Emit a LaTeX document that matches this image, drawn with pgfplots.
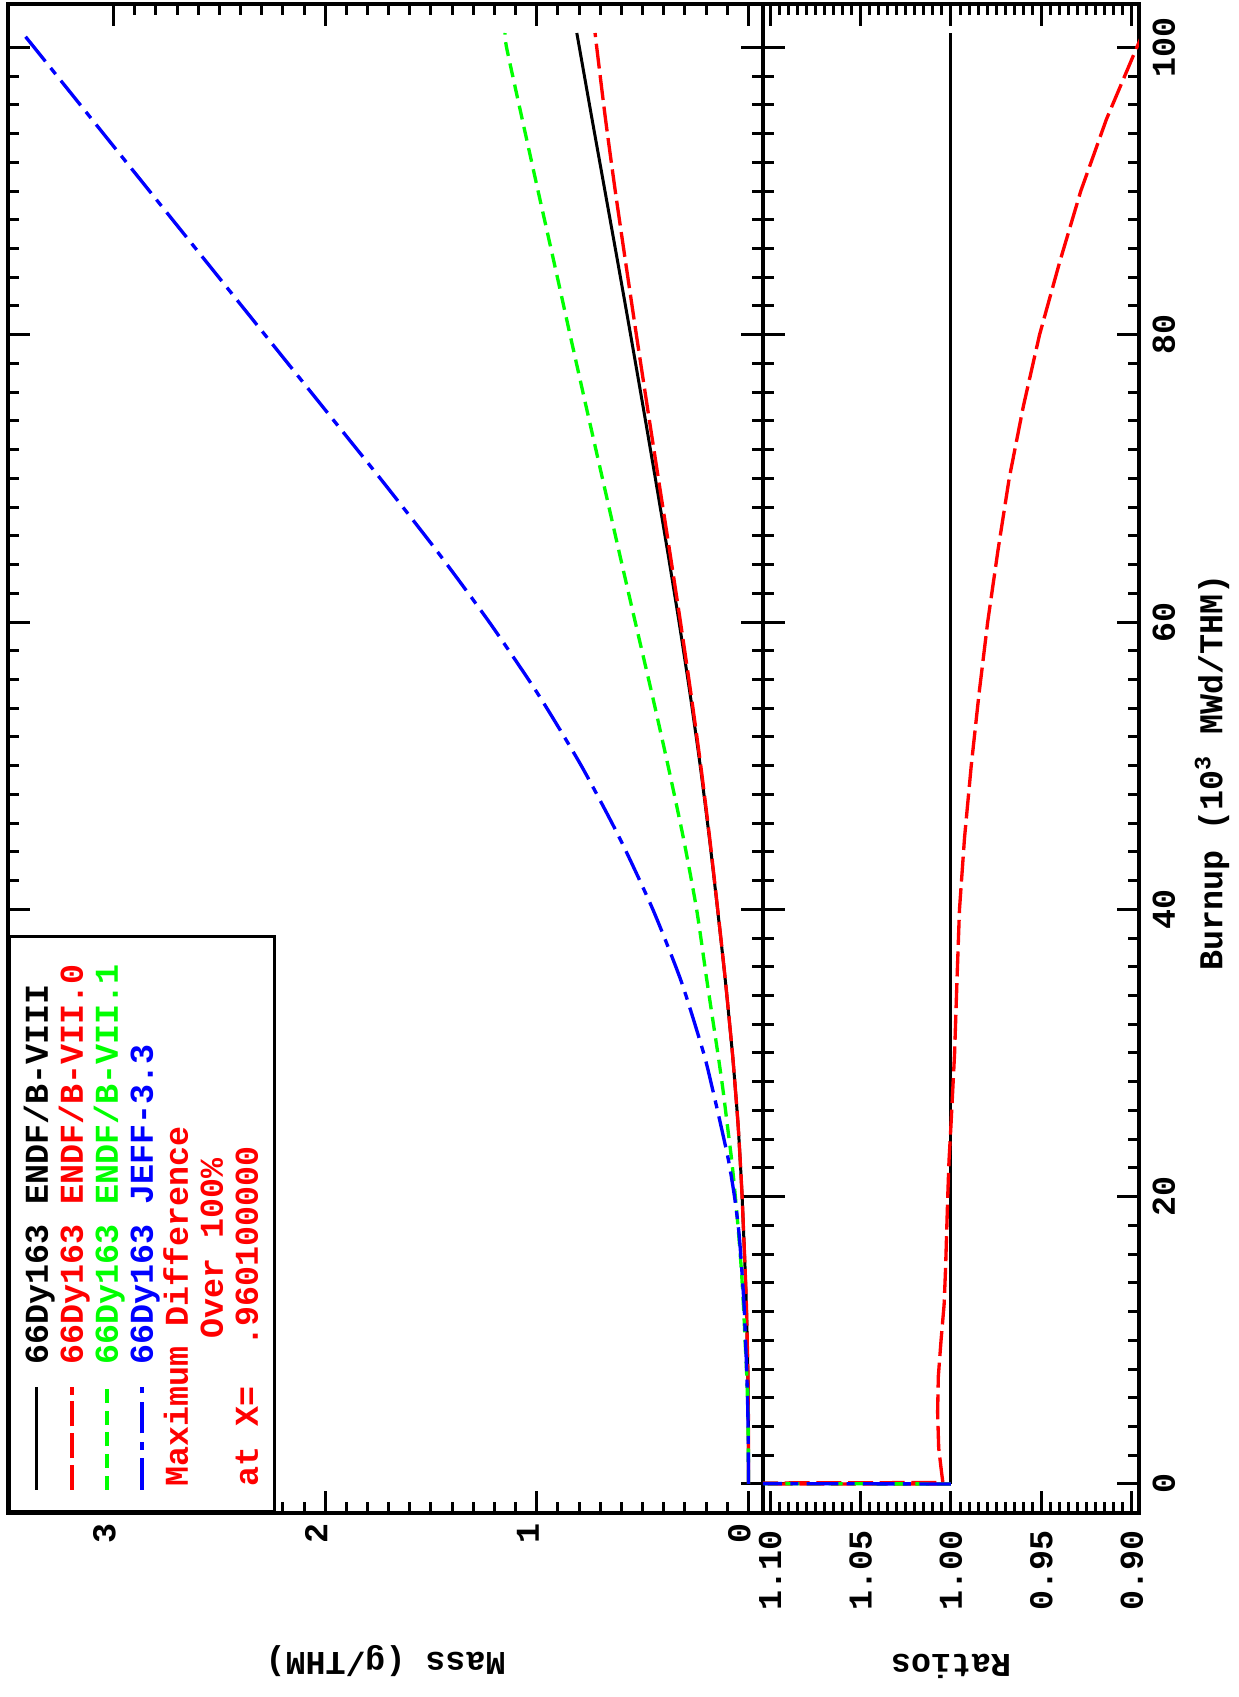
\documentclass[border=0pt]{standalone}
\usepackage{fontspec}
\setmainfont{Liberation Mono}
\usepackage{graphicx}
\usepackage{pgfplots}
\usepackage{pgfplotstable}
\pgfplotsset{compat=1.18}

\pgfplotstableread{
b      black   red     green   blue
0      0       0       0       0
1      0.00002 0.00002 0.0001  0.0001
2.5    0.0001  0.0001  0.0007  0.0007
5      0.0007  0.0007  0.003   0.003
7.5    0.0025  0.0025  0.008   0.0075
10     0.006   0.006   0.016   0.014
12.5   0.010   0.010   0.024   0.021
15     0.016   0.016   0.034   0.032
17.5   0.023   0.023   0.047   0.045
20     0.030   0.030   0.062   0.066
22.5   0.039   0.039   0.079   0.094
25     0.049   0.049   0.100   0.131
27.5   0.062   0.062   0.121   0.170
30     0.076   0.0758  0.145   0.212
35     0.109   0.1086  0.196   0.318
40     0.146   0.1453  0.245   0.452
45     0.185   0.1836  0.308   0.610
50     0.228   0.2254  0.380   0.790
55     0.276   0.2717  0.456   0.995
60     0.328   0.3213  0.535   1.225
65     0.383   0.3730  0.613   1.475
70     0.440   0.4258  0.690   1.740
75     0.498   0.4781  0.767   2.0125
80     0.557   0.5297  0.843   2.285
85     0.617   0.5800  0.918   2.5575
90     0.678   0.6293  0.994   2.830
95     0.739   0.6754  1.069   3.1025
100    0.799   0.7169  1.143   3.375
101    0.811   0.7248  1.150   3.430
}\massdata

\pgfplotstableread{
b      red
0      1.0
0.01   1.3
0.1    1.0045
1      1.0054
2.5    1.0068
5      1.0074
7.5    1.0070
10     1.0055
12.5   1.0038
15     1.0030
17.5   1.0024
20     1.0018
22.5   1.0011
25     1.0000
27.5   0.9990
30     0.9980
35     0.9967
40     0.9953
45     0.9925
50     0.9888
55     0.9845
60     0.9797
65     0.9740
70     0.9678
75     0.9600
80     0.9510
85     0.9400
90     0.9282
95     0.9140
100    0.8972
101    0.8937
}\ratiored

\pgfplotstableread{
b      green  blue
0      1.0    1.0
1      5.0    5.0
2.5    7.0    7.0
5      4.29   4.29
7.5    3.2    3.0
10     2.67   2.33
15     2.13   2.0
20     2.07   2.2
25     2.04   2.67
30     1.91   2.79
35     1.80   2.92
40     1.68   3.10
45     1.66   3.30
50     1.67   3.46
55     1.65   3.61
60     1.63   3.73
65     1.60   3.85
70     1.57   3.95
75     1.54   4.04
80     1.51   4.10
85     1.49   4.15
90     1.47   4.17
95     1.45   4.20
100    1.43   4.22
101    1.42   4.23
}\ratioother

\pgfplotsset{
  /pgf/number format/assume math mode=true,
  panel/.style={
    scale only axis,
    width=452.7pt,
    xmin=-2.02, xmax=103.02,
    xtick={0,20,40,60,80,100},
    minor x tick num=9,
    tick align=inside,
    xtick pos=both, ytick pos=both,
    major tick length=6.6pt,
    minor tick length=3.3pt,
    every tick/.style={black, line width=0.9pt},
    axis line style={line width=1.2pt},
    clip=true,
  },
  redst/.style={red, line width=1pt, dash pattern=on 7.5pt off 2pt},
  greenst/.style={green, line width=1pt, dash pattern=on 4.2pt off 2.3pt},
  bluest/.style={blue, line width=1pt, dash pattern=on 9.5pt off 2.5pt on 2.4pt off 2.5pt},
  blackst/.style={black, line width=0.9pt},
}

\begin{document}
\rotatebox{90}{%
\begin{tikzpicture}[font=\bfseries\fontsize{10}{12}\selectfont]
\begin{axis}[panel,
  at={(55.2pt,142.8pt)}, anchor=south west,
  height=226.5pt,
  ymin=-0.0686, ymax=3.4986,
  ytick={0,1,2,3},
  minor y tick num=9,
  xticklabels={},
  yticklabel style={anchor=east, inner sep=0pt, xshift=-3pt, yshift=2.7pt},
  ylabel={Mass (g/THM)},
  ylabel style={at={(axis description cs:-0.098,0.5)}, anchor=center},
  legend cell align=left,
  legend image code/.code={\draw[#1] (0pt,0pt) -- (30.9pt,0pt);},
  legend style={at={(axis description cs:0,1)}, anchor=north west,
    draw=black, line width=0.9pt, fill=white,
    inner xsep=6pt, inner ysep=3pt, row sep=0pt,
    nodes={inner sep=0pt, text height=8.55pt, text depth=1.95pt},
    /tikz/every odd column/.append style={column sep=6.3pt}},
]
\addplot[blackst, smooth, tension=0.4] table[x=b, y=black]{\massdata};
\addlegendentry{66Dy163 ENDF/B-VIII}
\addplot[redst, smooth, tension=0.4] table[x=b, y=red]{\massdata};
\addlegendentry{\textcolor{red}{66Dy163 ENDF/B-VII.0}\hspace*{2.4pt}}
\addplot[greenst, smooth, tension=0.4] table[x=b, y=green]{\massdata};
\addlegendentry{\textcolor{green}{66Dy163 ENDF/B-VII.1}}
\addplot[bluest, smooth, tension=0.4] table[x=b, y=blue]{\massdata};
\addlegendentry{\textcolor{blue}{66Dy163 JEFF-3.3}}
\addlegendimage{empty legend}
\addlegendentry{\hspace*{-36.6pt}\textcolor{red}{Maximum Difference}}
\addlegendimage{empty legend}
\addlegendentry{\hspace*{7.8pt}\textcolor{red}{Over 100\%}}
\addlegendimage{empty legend}
\addlegendentry{\hspace*{-36.6pt}\textcolor{red}{at X=\ \ .960100000}}
\end{axis}

\begin{axis}[panel,
  at={(55.2pt,30pt)}, anchor=south west,
  height=112.8pt,
  ymin=0.896, ymax=1.104,
  ytick={0.90,0.95,1.00,1.05,1.10},
  minor y tick num=9,
  yticklabel style={anchor=east, inner sep=0pt, xshift=-5pt,
    /pgf/number format/fixed, /pgf/number format/fixed zerofill,
    /pgf/number format/precision=2},
  xticklabel style={anchor=north, inner sep=0pt, yshift=-3.9pt},
  xlabel={Burnup (10\textsuperscript{3} MWd/THM)},
  xlabel style={at={(axis description cs:0.5,0)}, anchor=center, yshift=-21.9pt, xshift=-4.2pt},
  ylabel={Ratios},
  ylabel style={at={(axis description cs:-0.1014,0.5)}, anchor=center},
]
\addplot[blackst] coordinates {(0,1) (101,1)};
\addplot[redst] table[x=b, y=red]{\ratiored};
\addplot[greenst] table[x=b, y=green]{\ratioother};
\addplot[bluest] table[x=b, y=blue]{\ratioother};
\end{axis}
\pgfresetboundingbox
\path[use as bounding box] (0,0) rectangle (509.1pt,371.7pt);
\end{tikzpicture}}
\end{document}
